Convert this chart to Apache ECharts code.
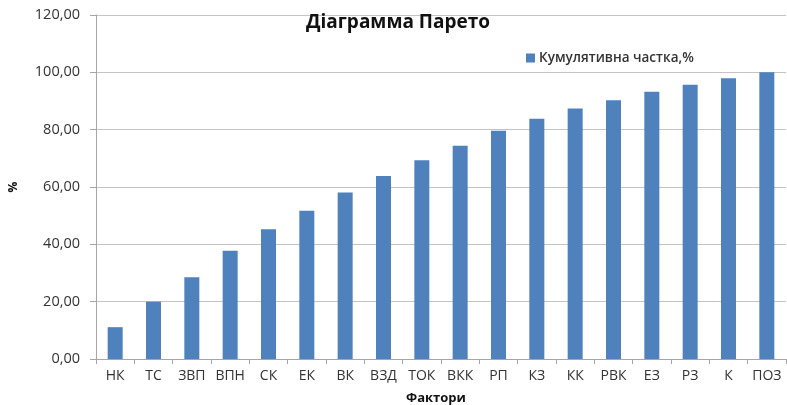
<!DOCTYPE html>
<html>
<head>
<meta charset="utf-8">
<script src="https://cdn.jsdelivr.net/npm/echarts@6/dist/echarts.min.js"></script>
<style>
  html, body { margin: 0; padding: 0; background: #fff; }
  #chart { width: 787px; height: 405px; }
</style>
</head>
<body>
<div id="chart"></div>
<script>
// категорії (фактори)
var factors = ['НК', 'ТС', 'ЗВП', 'ВПН', 'СК', 'ЕК', 'ВК', 'ВЗД', 'ТОК', 'ВКК',
               'РП', 'КЗ', 'КК', 'РВК', 'ЕЗ', 'РЗ', 'К', 'ПОЗ'];
// кумулятивна частка, %
var cumShare = [11.1, 20.0, 28.5, 37.8, 45.3, 51.7, 58.1, 63.8, 69.3, 74.4,
                79.6, 83.8, 87.4, 90.3, 93.2, 95.7, 97.9, 100.0];
var seriesName = 'Кумулятивна частка,%';

var chart = echarts.init(document.getElementById('chart'));
var option = {
  animation: false,
  textStyle: { fontFamily: '"Open Sans", "Noto Sans", sans-serif' },
  title: {
    text: 'Діаграмма Парето',
    left: 393,
    textAlign: 'center',
    top: 8,
    textStyle: { fontSize: 19, fontWeight: 'bold', color: '#111', fontFamily: '"Open Sans", sans-serif' }
  },
  legend: {
    data: [seriesName],
    left: 521,
    top: 46,
    itemWidth: 9,
    itemHeight: 9,
    itemGap: 4,
    icon: 'rect',
    textStyle: { fontSize: 13.5, fontWeight: 600, color: '#333', padding: [0, 0, 0, -1] }
  },
  grid: { left: 96, right: 1, top: 15, bottom: 46, outerBoundsMode: 'none', containLabel: false },
  xAxis: {
    type: 'category',
    data: factors,
    name: 'Фактори',
    nameLocation: 'middle',
    nameGap: 33,
    nameTextStyle: { fontSize: 13, fontWeight: 'bold', color: '#111', padding: [0, 10, 0, 0] },
    axisLine: { lineStyle: { color: '#a6a6a6' } },
    axisTick: { show: true, length: 5, lineStyle: { color: '#a6a6a6' } },
    axisLabel: { fontSize: 14, color: '#333', margin: 10, interval: 0 }
  },
  yAxis: {
    type: 'value',
    min: 0,
    max: 120,
    interval: 20,
    name: '%',
    nameLocation: 'middle',
    nameGap: 76,
    nameRotate: 90,
    nameTextStyle: { fontSize: 12, fontWeight: 'bold', color: '#111' },
    axisLine: { show: true, lineStyle: { color: '#a6a6a6' } },
    axisTick: { show: true, length: 6, lineStyle: { color: '#a6a6a6' } },
    splitLine: { lineStyle: { color: '#c4c4c4' } },
    axisLabel: {
      fontSize: 14.5,
      color: '#333',
      margin: 16,
      formatter: function (v) { return v.toFixed(2).replace('.', ','); }
    }
  },
  series: [{
    name: seriesName,
    type: 'bar',
    data: cumShare,
    barWidth: 15,
    itemStyle: { color: '#4f81bd' }
  }]
};
chart.setOption(option);
</script>
</body>
</html>
